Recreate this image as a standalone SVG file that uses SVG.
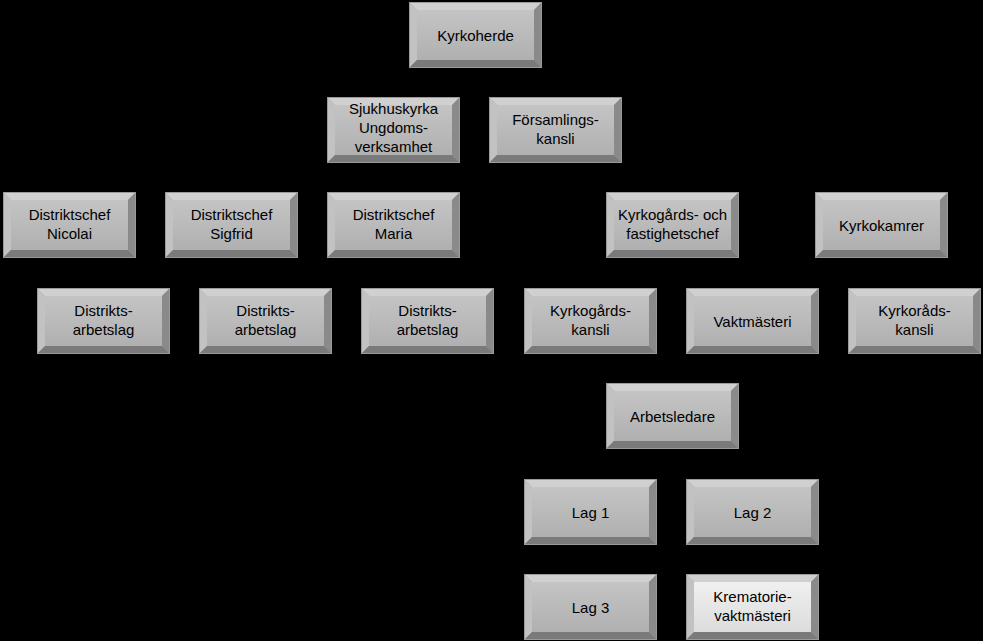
<svg xmlns="http://www.w3.org/2000/svg" xmlns:xlink="http://www.w3.org/1999/xlink" width="983" height="641" viewBox="0 0 983 641">
<style>
text{font-family:"Liberation Sans",Arial,sans-serif;font-size:15px;fill:#000;text-anchor:middle}
</style>
<defs>
<linearGradient id="face" x1="0" y1="0" x2="0" y2="1"><stop offset="0" stop-color="#c4c4c4"/><stop offset="1" stop-color="#b0b0b0"/></linearGradient>
<linearGradient id="faceL" x1="0" y1="0" x2="0" y2="1"><stop offset="0" stop-color="#f0f0f0"/><stop offset="1" stop-color="#dcdcdc"/></linearGradient>
<g id="bev">
<rect x="0" y="0" width="133" height="66" fill="#a4a4a4"/>
<polygon points="0,0 133,0 125,8 8,8" fill="#d0d0d0"/>
<polygon points="0,0 8,8 8,58 0,66" fill="#c2c2c2"/>
<polygon points="133,0 133,66 125,58 125,8" fill="#8a8a8a"/>
<polygon points="0,66 133,66 125,58 8,58" fill="#7a7a7a"/>
<rect x="0.5" y="0.5" width="132" height="65" fill="none" stroke="#9a9a9a"/>
</g>
<g id="box"><use xlink:href="#bev"/><rect x="8" y="8" width="117" height="50" fill="url(#face)"/></g>
<g id="boxL"><use xlink:href="#bev"/><rect x="8" y="8" width="117" height="50" fill="url(#faceL)"/></g>
</defs>
<rect width="983" height="641" fill="#000"/>
<g id="connectors"/>
<g id="n1" transform="translate(409,2)"><use xlink:href="#box"/><text x="66.5" y="39">Kyrkoherde</text></g>
<g id="n2" transform="translate(327,97)"><use xlink:href="#box"/><text x="66.5" y="17">Sjukhuskyrka</text><text x="66.5" y="36">Ungdoms-</text><text x="66.5" y="55">verksamhet</text></g>
<g id="n3" transform="translate(489,97)"><use xlink:href="#box"/><text x="66.5" y="28">Församlings-</text><text x="66.5" y="47">kansli</text></g>
<g id="n4" transform="translate(3,192)"><use xlink:href="#box"/><text x="66.5" y="28">Distriktschef</text><text x="66.5" y="47">Nicolai</text></g>
<g id="n5" transform="translate(165,192)"><use xlink:href="#box"/><text x="66.5" y="28">Distriktschef</text><text x="66.5" y="47">Sigfrid</text></g>
<g id="n6" transform="translate(327,192)"><use xlink:href="#box"/><text x="66.5" y="28">Distriktschef</text><text x="66.5" y="47">Maria</text></g>
<g id="n7" transform="translate(606,192)"><use xlink:href="#box"/><text x="66.5" y="28">Kyrkogårds- och</text><text x="66.5" y="47">fastighetschef</text></g>
<g id="n8" transform="translate(815,192)"><use xlink:href="#box"/><text x="66.5" y="39">Kyrkokamrer</text></g>
<g id="n9" transform="translate(37,288)"><use xlink:href="#box"/><text x="66.5" y="28">Distrikts-</text><text x="66.5" y="47">arbetslag</text></g>
<g id="n10" transform="translate(199,288)"><use xlink:href="#box"/><text x="66.5" y="28">Distrikts-</text><text x="66.5" y="47">arbetslag</text></g>
<g id="n11" transform="translate(361,288)"><use xlink:href="#box"/><text x="66.5" y="28">Distrikts-</text><text x="66.5" y="47">arbetslag</text></g>
<g id="n12" transform="translate(524,288)"><use xlink:href="#box"/><text x="66.5" y="28">Kyrkogårds-</text><text x="66.5" y="47">kansli</text></g>
<g id="n13" transform="translate(686,288)"><use xlink:href="#box"/><text x="66.5" y="39">Vaktmästeri</text></g>
<g id="n14" transform="translate(848,288)"><use xlink:href="#box"/><text x="66.5" y="28">Kyrkoråds-</text><text x="66.5" y="47">kansli</text></g>
<g id="n15" transform="translate(606,383)"><use xlink:href="#box"/><text x="66.5" y="39">Arbetsledare</text></g>
<g id="n16" transform="translate(524,479)"><use xlink:href="#box"/><text x="66.5" y="39">Lag 1</text></g>
<g id="n17" transform="translate(686,479)"><use xlink:href="#box"/><text x="66.5" y="39">Lag 2</text></g>
<g id="n18" transform="translate(524,574)"><use xlink:href="#box"/><text x="66.5" y="39">Lag 3</text></g>
<g id="n19" transform="translate(686,574)"><use xlink:href="#boxL"/><text x="66.5" y="28">Krematorie-</text><text x="66.5" y="47">vaktmästeri</text></g>
</svg>
